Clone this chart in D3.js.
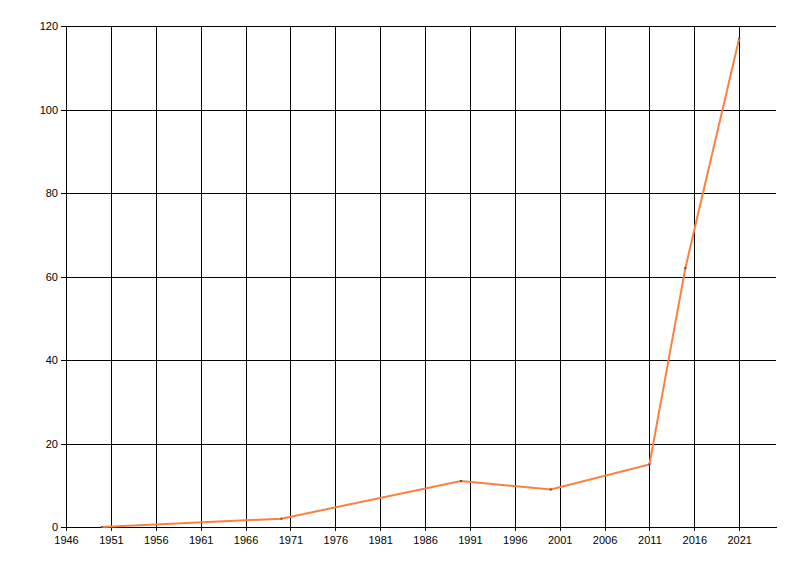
<!DOCTYPE html>
<html>
<head>
<meta charset="utf-8">
<script src="https://cdn.jsdelivr.net/npm/d3@7"></script>
<style>
  body { margin: 0; background: #fff; }
  .tick text { font-family: "Liberation Sans", Arial, sans-serif; font-size: 11px; fill: #000; }
  .tick line, .domain { shape-rendering: crispEdges; }
</style>
</head>
<body>
<svg id="chart"></svg>
<script>
const years = [1950, 1970, 1990, 2000, 2011, 2015, 2021];
const values = [0, 2, 11, 9, 15, 62, 117];
const xTicks = [1946, 1951, 1956, 1961, 1966, 1971, 1976, 1981, 1986, 1991, 1996, 2001, 2006, 2011, 2016, 2021];
const yTicks = [0, 20, 40, 60, 80, 100, 120];

const width = 800, height = 576;
const margin = { top: 26, right: 24, bottom: 49, left: 66 };
const innerW = width - margin.left - margin.right;
const innerH = height - margin.top - margin.bottom;

const svg = d3.select("#chart")
    .attr("width", width)
    .attr("height", height);

const g = svg.append("g")
    .attr("transform", `translate(${margin.left}, ${margin.top})`);

const x = d3.scaleLinear().domain([1946, 2025.1]).range([0, innerW]);
const y = d3.scaleLinear().domain([0, 120]).range([innerH, 0]);

// vertical grid, sticking out below the axis as tick marks
g.append("g")
    .attr("transform", `translate(0, ${innerH})`)
    .call(d3.axisBottom(x).tickValues(xTicks).tickFormat(d3.format("d"))
        .tickSize(-innerH).tickSizeOuter(0).tickPadding(9))
    .call(a => a.select(".domain").attr("stroke", "#000"))
    .call(a => a.selectAll(".tick line").attr("stroke", "#000")
        .attr("y1", 4).attr("y2", -innerH))
    .call(a => a.selectAll(".tick text").attr("y", 9));

// horizontal grid
g.append("g")
    .call(d3.axisLeft(y).tickValues(yTicks)
        .tickSize(-innerW).tickSizeOuter(0).tickPadding(8))
    .call(a => a.select(".domain").attr("stroke", "#000"))
    .call(a => a.selectAll(".tick line").attr("stroke", "#000")
        .attr("x1", -5).attr("x2", innerW))
    .call(a => a.selectAll(".tick text").attr("x", -8));

const pts = years.map((yr, i) => ({ year: yr, value: values[i] }));

const line = d3.line()
    .x(d => x(d.year))
    .y(d => y(d.value));

g.append("path")
    .datum(pts)
    .attr("fill", "none")
    .attr("stroke", "#ff7f3f")
    .attr("stroke-width", 2)
    .attr("d", line);

g.selectAll(".marker")
    .data(pts)
    .enter()
    .append("rect")
    .attr("class", "marker")
    .attr("x", d => x(d.year) - 1)
    .attr("y", d => y(d.value) - 1)
    .attr("width", 2)
    .attr("height", 2)
    .attr("fill", "#555");
</script>
</body>
</html>
